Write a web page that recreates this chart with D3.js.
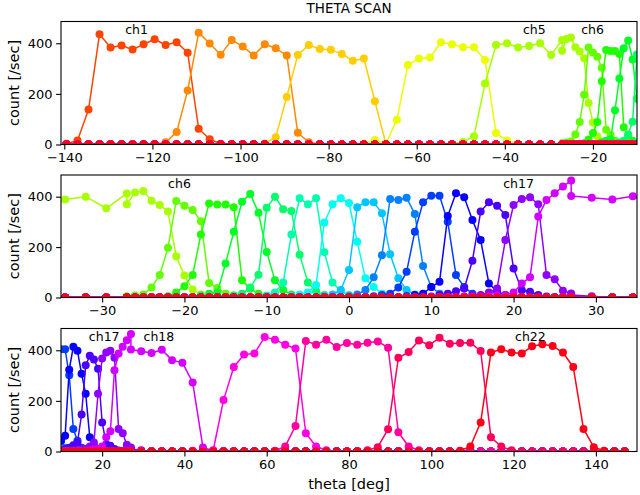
<!DOCTYPE html>
<html><head><meta charset="utf-8">
<script src="https://cdn.jsdelivr.net/npm/d3@7"></script>
<style>
body{margin:0;background:#fff}
svg{display:block}
text{font-family:"DejaVu Sans",sans-serif;fill:#000}
</style>
</head><body>
<script>
// ---------------- DATA ----------------
// scan grid (theta, deg): coarse scan, fine scan around 0, coarse scan
const thetaCoarse1 = d3.range(-139.5, -26.9, 2.5);
const thetaFine    = d3.range(-27, 27.01, 1);
const thetaCoarse2 = d3.range(27, 147.01, 2.5);

// counts [/sec] per channel, listed from a start point of the scan; zero elsewhere
const chStartSeg   = ["c1","c1","c1","c1","c1","f","f","f","f","f","f","f","f","f","f","f","f","f","c2","c2","c2","c2"];
const chStartTheta = [-139.5,-117,-94.5,-72,-52,-27,-22,-18,-14,-10,-7,-3,0,3,7,10,14,17,42,62,84.5,107];

const ch1  = [3,16,138,436,383,391,375,396,416,393,404,363,62,21,3];
const ch2  = [9,49,213,442,399,355,413,387,352,396,380,352,46,9,2];
const ch3  = [4,29,188,354,393,377,374,358,331,340,171,3];
const ch4  = [4,18,4,98,314,340,344,404,396,384,384,334,45,16,4];
const ch5  = [3,10,33,241,393,400,383,389,400,354,413,370,417,423,384,367,341,164,87,32,12,6];
const ch6  = [5,8,12,40,89,197,383,364,347,303,58,38,15,8,4];
const ch7  = [5,20,45,89,250,373,369,369,358,68,35,15,6];
const ch8  = [8,15,20,135,261,380,411,336,181,68,30,12,5];
const ch9  = [8,15,40,90,356,400,350,343,170,60,25,10,4];
const ch10 = [8,20,60,250,394,370,394,180,60,25,10,4];
const ch11 = [5,12,20,50,298,370,394,375,221,76,42,15,5];
const ch12 = [5,12,30,109,358,378,378,334,172,76,30,12,5];
const ch13 = [5,12,30,80,168,391,387,396,331,125,42,15,5];
const ch14 = [5,10,15,40,102,261,378,404,404,301,89,42,15,5];
const ch15 = [5,10,15,42,62,323,414,398,307,228,56,23,10,4];
const ch16 = [4,10,15,25,36,146,341,378,364,327,115,29,23,10,4];
const ch17 = [4,8,10,20,36,228,367,391,398,370,89,72,27,16,10,5];
const ch18 = [4,8,10,20,56,80,321,387,414,440,464,403,396,389,402,361,351,273,16,3];
const ch19 = [3,3,5,203,334,383,387,452,442,422,407,72,20,5];
const ch20 = [3,20,101,437,422,442,413,429,422,430,435,410,76,20,5];
const ch21 = [5,17,88,370,393,439,420,449,426,429,430,397,56,20,5];
const ch22 = [3,20,115,391,404,391,387,416,424,417,391,334,89,17,3];
const channels = [ch1,ch2,ch3,ch4,ch5,ch6,ch7,ch8,ch9,ch10,ch11,ch12,ch13,ch14,ch15,ch16,ch17,ch18,ch19,ch20,ch21,ch22];

// annotations per panel
const labels1 = ["ch1","ch5","ch6"],   labelTheta1 = [-123.6,-33.3,-20.1];
const labels2 = ["ch6","ch17"],        labelTheta2 = [-20.6,20.6];
const labels3 = ["ch17","ch18","ch22"],labelTheta3 = [20.5,33.8,124.1];
const labelCount = 453;

const xTicks1 = [-140,-120,-100,-80,-60,-40,-20];
const xTicks2 = [-30,-20,-10,0,10,20,30];
const xTicks3 = [20,40,60,80,100,120,140];
const yTicks  = [0,200,400];
const title = "THETA SCAN", xTitle = "theta [deg]", yTitle = "count [/sec]";

// ---------------- BUILD ----------------
const scanTheta = [...thetaCoarse1, ...thetaFine, ...thetaCoarse2];
const segOffset = {c1:0, f:thetaCoarse1.length, c2:thetaCoarse1.length+thetaFine.length};
const segFirst = {c1:thetaCoarse1[0], f:thetaFine[0], c2:thetaCoarse2[0]};
const segStep = {c1:2.5, f:1, c2:2.5};
const series = channels.map((vals, c) => {
  const s = segOffset[chStartSeg[c]] + Math.round((chStartTheta[c]-segFirst[chStartSeg[c]])/segStep[chStartSeg[c]]);
  return scanTheta.map((t, j) => ({t, v: (j>=s && j-s<vals.length) ? vals[j-s] : 0}));
});

// matplotlib "hsv" colormap
const cmR = [[0,1],[0.158730,1],[0.174603,0.96875],[0.333333,0.03125],[0.349206,0],[0.666667,0],[0.682540,0.03125],[0.841270,0.96875],[0.857143,1],[1,1]];
const cmG = [[0,0],[0.158730,0.9375],[0.174603,1],[0.507937,1],[0.666667,0.0625],[0.682540,0],[1,0]];
const cmB = [[0,0],[0.333333,0],[0.349206,0.0625],[0.507937,1],[0.841270,1],[0.857143,0.9375],[1,0.09375]];
const mk = seg => d3.scaleLinear().domain(seg.map(d=>d[0])).range(seg.map(d=>d[1])).clamp(true);
const fR = mk(cmR), fG = mk(cmG), fB = mk(cmB);
const color = c => { const x=(c+1)/channels.length; return d3.rgb(fR(x)*255, fG(x)*255, fB(x)*255).formatHex(); };

const W = 640, H = 495, L = 61, R = 637;
const svg = d3.select("body").append("svg").attr("width",W).attr("height",H);

const panels = [
  {top:21.5, bottom:144.5, domain:[-140.75,-10], ticks:xTicks1, labels:labels1, lt:labelTheta1},
  {top:175,  bottom:297.5, domain:[-35,35],      ticks:xTicks2, labels:labels2, lt:labelTheta2},
  {top:328.5,bottom:451.5, domain:[10,150],      ticks:xTicks3, labels:labels3, lt:labelTheta3}
];

const FS = 13, FL = 14.5;
panels.forEach((p, pi) => {
  const x = d3.scaleLinear().domain(p.domain).range([L,R]);
  const y = d3.scaleLinear().domain([0,486]).range([p.bottom,p.top]);
  const cid = "clip"+pi;
  svg.append("clipPath").attr("id",cid).append("rect")
    .attr("x",L).attr("y",p.top).attr("width",R-L).attr("height",p.bottom-p.top);
  const g = svg.append("g").attr("clip-path",`url(#${cid})`);
  const line = d3.line().x(d=>x(d.t)).y(d=>y(d.v));
  series.forEach((s, c) => {
    const col = color(c);
    g.append("path").attr("d",line(s)).attr("fill","none").attr("stroke",col)
      .attr("stroke-width",1.5).attr("stroke-linejoin","round");
    g.selectAll(null).data(s).enter().append("circle")
      .attr("cx",d=>x(d.t)).attr("cy",d=>y(d.v)).attr("r",4).attr("fill",col);
  });
  // annotations
  p.labels.forEach((lab,k) => {
    svg.append("text").attr("x",x(p.lt[k])).attr("y",y(labelCount)).attr("dy","0.36em")
      .attr("text-anchor","middle").style("font-size","12.5px").text(lab);
  });
  // axes
  const ax = svg.append("g").attr("transform",`translate(0,${p.bottom})`)
    .call(d3.axisBottom(x).tickValues(p.ticks).tickSize(4.9).tickPadding(3.5).tickSizeOuter(0));
  const ay = svg.append("g").attr("transform",`translate(${L},0)`)
    .call(d3.axisLeft(y).tickValues(yTicks).tickSize(4.9).tickPadding(3.5).tickSizeOuter(0));
  [ax,ay].forEach(a => { a.select(".domain").remove(); a.selectAll("text").style("font-size",FS+"px").style("font-family","DejaVu Sans"); a.selectAll("line").attr("stroke","#000").attr("stroke-width",1.1); });
  svg.append("rect").attr("x",L).attr("y",p.top).attr("width",R-L).attr("height",p.bottom-p.top)
    .attr("fill","none").attr("stroke","#000").attr("stroke-width",1.1);
  svg.append("text").attr("transform",`translate(14,${(p.top+p.bottom)/2}) rotate(-90)`)
    .attr("text-anchor","middle").attr("dy","0.36em").style("font-size",FL+"px").text(yTitle);
});

svg.append("text").attr("x",(L+R)/2).attr("y",8).attr("dy","0.36em").attr("text-anchor","middle")
  .style("font-size","13.5px").text(title);
svg.append("text").attr("x",(L+R)/2).attr("y",484).attr("dy","0.36em").attr("text-anchor","middle")
  .style("font-size",FL+"px").text(xTitle);
</script>
</body></html>
